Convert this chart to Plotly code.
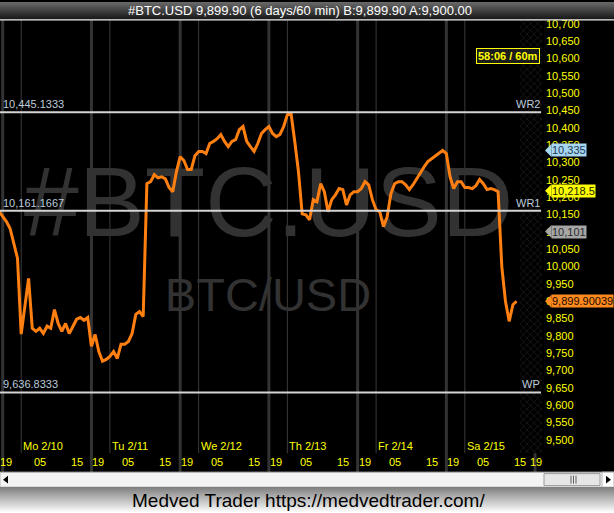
import plotly.graph_objects as go
import pandas as pd

W, H = 614, 513

# ---------------- data ----------------
start_time = "2020-02-09 18:00"
prices = [
    10159, 10144, 10130, 10110, 10064, 10024, 9805, 9893, 9966, 9822,
    9813, 9822, 9807, 9828, 9822, 9876, 9836, 9813, 9836, 9807,
    9828, 9848, 9853, 9845, 9853, 9770, 9804, 9755, 9727, 9732,
    9741, 9755, 9735, 9776, 9776, 9784, 9807, 9862, 9870, 9856,
    10239, 10245, 10265, 10256, 10259, 10253, 10228, 10216, 10274, 10317,
    10306, 10280, 10280, 10320, 10332, 10332, 10326, 10355, 10361, 10369,
    10381, 10361, 10346, 10361, 10366, 10395, 10404, 10361, 10346, 10332,
    10355, 10384, 10395, 10404, 10384, 10375, 10381, 10404, 10438, 10441,
    10361, 10274, 10152, 10149, 10135, 10193, 10187, 10239, 10216, 10158,
    10193, 10207, 10225, 10222, 10178, 10207, 10216, 10216, 10225, 10245,
    10236, 10193, 10164, 10158, 10115, 10144, 10210, 10239, 10245, 10245,
    10236, 10222, 10236, 10253, 10274, 10288, 10303, 10311, 10317, 10326,
    10335, 10326, 10259, 10225, 10245, 10245, 10228, 10228, 10225, 10233,
    10251, 10239, 10222, 10225, 10222, 10216, 10000, 9899, 9842, 9890,
    9899.90039,
]
times = pd.date_range(start_time, periods=len(prices), freq="h")

pivot_names = ["WR2", "WR1", "WP"]
pivot_values = [10445.1333, 10161.1667, 9636.8333]
pivot_labels = ["10,445.1333", "10,161.1667", "9,636.8333"]

marker_values = [10335, 10218.5, 10101, 9899.90039]
marker_labels = ["10,335", "10,218.5", "10,101", "9,899.90039"]
marker_fill = ["#a6d6f0", "#ffff00", "#a6a6a6", "#ff8a1e"]
marker_font = ["#1e3a58", "#1a1a00", "#2a2a2a", "#1a0800"]

y_ticks = list(range(9500, 10701, 50))
y_tick_text = [f"{v:,}" for v in y_ticks]

day_labels = ["Mo 2/10", "Tu 2/11", "We 2/12", "Th 2/13", "Fr 2/14", "Sa 2/15"]
session_start = "2020-02-09 19:00"
n_days = 6

title_text = "#BTC.USD 9,899.90 (6 days/60 min) B:9,899.90 A:9,900.00"
footer_text = "Medved Trader https://medvedtrader.com/"
timer_text = "58:06 / 60m"

# ---------------- geometry helpers ----------------
PLOT_L, PLOT_R, PLOT_T, PLOT_B = 0, 542, 18, 472
T0_PX = 2.7
PX_PER_H = 3.697
Y_TOP_VAL = 10711.5
UNITS_PER_PX = 2.8735
t0 = pd.Timestamp(session_start)


def xp(px):
    return px / W


def yp(py):
    return 1 - py / H


def t_at(px):
    return t0 + pd.Timedelta(hours=(px - T0_PX) / PX_PER_H)


def p_at(py):
    return Y_TOP_VAL - (py - PLOT_T) * UNITS_PER_PX


FONT = "Liberation Sans, Arial, sans-serif"
YELLOW = "#ffff00"

fig = go.Figure()

# watermark (drawn first so that the line is above it)
fig.add_trace(go.Scatter(
    x=[t_at(268.5), t_at(268)], y=[p_at(210), p_at(298.5)],
    mode="text", text=["#BTC.USD", "BTC/USD"],
    textfont=dict(family=FONT, size=[99, 47], color="#323232"),
    textposition="middle center", hoverinfo="skip", showlegend=False,
))

# price line
fig.add_trace(go.Scatter(
    x=times, y=prices, mode="lines",
    line=dict(color="#ff7f11", width=3),
    hoverinfo="skip", showlegend=False,
))

# hatched "future" strip
fig.add_trace(go.Bar(
    x=[0], y=[1], width=[1], xaxis="x2", yaxis="y2",
    marker=dict(color="#000000", line=dict(width=0),
                pattern=dict(shape="x", fgcolor="#3a3a3a", bgcolor="#000000",
                             size=5, solidity=0.25)),
    hoverinfo="skip", showlegend=False,
))

shapes = []
annotations = []


def ann(**kw):
    base = dict(showarrow=False, borderpad=0, xanchor="center", yanchor="middle")
    base.update(kw)
    annotations.append(base)


# vertical session / midnight lines
for k in range(n_days + 1):
    ts = t0 + pd.Timedelta(hours=24 * k)
    shapes.append(dict(type="line", xref="x", yref="paper", x0=ts, x1=ts,
                       y0=yp(PLOT_B), y1=yp(PLOT_T), layer="below",
                       line=dict(color="#333333", width=3)))
for k in range(n_days):
    ts = t0 + pd.Timedelta(hours=24 * k + 5)
    shapes.append(dict(type="line", xref="x", yref="paper", x0=ts, x1=ts,
                       y0=yp(453), y1=yp(PLOT_T), layer="below",
                       line=dict(color="#3a3a3a", width=1)))

# pivot lines
for name, val, lab in zip(pivot_names, pivot_values, pivot_labels):
    shapes.append(dict(type="line", xref="paper", yref="y", x0=0, x1=xp(541),
                       y0=val, y1=val, line=dict(color="#d4d4d4", width=2)))
    ann(xref="paper", yref="y", x=xp(2), y=val, text=lab,
        xanchor="left", yanchor="bottom", yshift=1,
        font=dict(family=FONT, size=11, color="#bccbdc"))
    ann(xref="paper", yref="y", x=xp(541), y=val, text=name,
        xanchor="right", yanchor="bottom", yshift=1,
        font=dict(family=FONT, size=11, color="#bccbdc"))

# price markers on the axis
for val, lab, fill, fc in zip(marker_values, marker_labels, marker_fill, marker_font):
    dv = 6.5 * UNITS_PER_PX
    shapes.append(dict(type="path", xref="paper", yref="y",
                       path=f"M {xp(545)},{val} L {xp(551.5)},{val + dv} L {xp(551.5)},{val - dv} Z",
                       fillcolor=fill, line=dict(width=0)))
    ann(xref="paper", yref="y", x=xp(551), y=val, text=lab,
        xanchor="left", yanchor="middle", bgcolor=fill,
        font=dict(family=FONT, size=11, color=fc))

# x axis labels
HOUR_Y, DAY_Y = 461.5, 446
for k in range(n_days + 1):
    ts = t0 + pd.Timedelta(hours=24 * k)
    if k == 0:
        ann(xref="paper", yref="paper", x=xp(-1), y=yp(HOUR_Y), text="19",
            xanchor="left", font=dict(family=FONT, size=11, color=YELLOW))
    elif k == n_days:
        ann(xref="paper", yref="paper", x=xp(543), y=yp(HOUR_Y), text="19",
            xanchor="right", font=dict(family=FONT, size=11, color=YELLOW))
    else:
        ann(xref="x", yref="paper", x=ts, y=yp(HOUR_Y), text="19",
            xanchor="left", font=dict(family=FONT, size=11, color=YELLOW))
for k in range(n_days):
    for hh, lab in ((10, "05"), (20, "15")):
        ts = t0 + pd.Timedelta(hours=24 * k + hh)
        ann(xref="x", yref="paper", x=ts, y=yp(HOUR_Y), text=lab,
            xanchor="center", font=dict(family=FONT, size=11, color=YELLOW))
    ts = t0 + pd.Timedelta(hours=24 * k + 5)
    ann(xref="x", yref="paper", x=ts, y=yp(DAY_Y), text=day_labels[k],
        xanchor="left", xshift=1, font=dict(family=FONT, size=11, color=YELLOW))

# timer box
ann(xref="paper", yref="paper", x=xp(508), y=yp(54),
    text=f"<b>{timer_text}</b>", bgcolor="#1c1c1c", bordercolor=YELLOW,
    borderwidth=1, borderpad=1, font=dict(family=FONT, size=11, color=YELLOW))

# title bar gradient
top_c, bot_c = (104, 104, 104), (22, 22, 22)
n_strips = 18
for i in range(n_strips):
    f = i / (n_strips - 1)
    c = tuple(int(round(a + (b - a) * f)) for a, b in zip(top_c, bot_c))
    shapes.append(dict(type="rect", xref="paper", yref="paper", x0=0, x1=1,
                       y0=yp(i + 1), y1=yp(i), line=dict(width=0),
                       fillcolor=f"rgb{c}"))
shapes.append(dict(type="rect", xref="paper", yref="paper", x0=0, x1=1,
                   y0=yp(18.6), y1=yp(17.4), line=dict(width=0), fillcolor="#f0f0f0"))
ann(xref="paper", yref="paper", x=xp(300), y=yp(9), text=title_text,
    font=dict(family=FONT, size=13, color="#ffffff"))

# scrollbar
shapes.append(dict(type="rect", xref="paper", yref="paper", x0=0, x1=1,
                   y0=yp(487), y1=yp(472), line=dict(width=1, color="#b8b8b8"),
                   fillcolor="#f4f4f4"))
shapes.append(dict(type="path", xref="paper", yref="paper",
                   path=f"M {xp(3)},{yp(479.5)} L {xp(8)},{yp(475.5)} L {xp(8)},{yp(483.5)} Z",
                   fillcolor="#000000", line=dict(width=0)))
shapes.append(dict(type="rect", xref="paper", yref="paper", x0=xp(602), x1=xp(614),
                   y0=yp(487), y1=yp(472), line=dict(width=1, color="#b8b8b8"),
                   fillcolor="#ffffff"))
shapes.append(dict(type="path", xref="paper", yref="paper",
                   path=f"M {xp(611)},{yp(479.5)} L {xp(606)},{yp(475.5)} L {xp(606)},{yp(483.5)} Z",
                   fillcolor="#000000", line=dict(width=0)))
shapes.append(dict(type="rect", xref="paper", yref="paper", x0=xp(544), x1=xp(600),
                   y0=yp(485.5), y1=yp(473.5), line=dict(width=1, color="#9a9a9a"),
                   fillcolor="#e6e6e6"))
for gx in (571, 573.5, 576):
    shapes.append(dict(type="line", xref="paper", yref="paper", x0=xp(gx), x1=xp(gx),
                       y0=yp(483.5), y1=yp(475.5), line=dict(width=1, color="#606060")))

# footer gradient
top_c, bot_c = (128, 128, 128), (255, 255, 255)
f_top, f_bot = 487, 513
n_strips = f_bot - f_top
for i in range(n_strips):
    f = i / (n_strips - 1)
    c = tuple(int(round(a + (b - a) * f)) for a, b in zip(top_c, bot_c))
    shapes.append(dict(type="rect", xref="paper", yref="paper", x0=0, x1=1,
                       y0=yp(f_top + i + 1), y1=yp(f_top + i), line=dict(width=0),
                       fillcolor=f"rgb{c}"))
ann(xref="paper", yref="paper", x=xp(308), y=yp(500), text=footer_text,
    font=dict(family=FONT, size=19, color="#000000"))

fig.update_layout(
    width=W, height=H,
    margin=dict(l=0, r=0, t=0, b=0),
    paper_bgcolor="#000000", plot_bgcolor="#000000",
    showlegend=False,
    xaxis=dict(domain=[0, xp(PLOT_R)], range=[t_at(PLOT_L), t_at(PLOT_R)],
               showgrid=False, zeroline=False, showticklabels=False,
               showline=False, ticks="", fixedrange=True),
    yaxis=dict(domain=[yp(PLOT_B), yp(PLOT_T)], range=[p_at(PLOT_B), p_at(PLOT_T)],
               side="right", tickvals=y_ticks, ticktext=y_tick_text,
               tickfont=dict(family=FONT, size=11, color=YELLOW),
               showgrid=False, zeroline=False, showline=False, ticks="",
               ticklabelstandoff=3, fixedrange=True),
    xaxis2=dict(domain=[xp(520), xp(542)], range=[-0.5, 0.5], anchor="y2",
                visible=False, fixedrange=True),
    yaxis2=dict(domain=[yp(453), yp(PLOT_T)], range=[0, 1], anchor="x2",
                visible=False, fixedrange=True),
    bargap=0,
    shapes=shapes,
    annotations=annotations,
)

fig.write_html(
    "out.html",
    config={"displayModeBar": False},
    post_script="document.body.style.margin='0';document.body.style.overflow='hidden';",
)
